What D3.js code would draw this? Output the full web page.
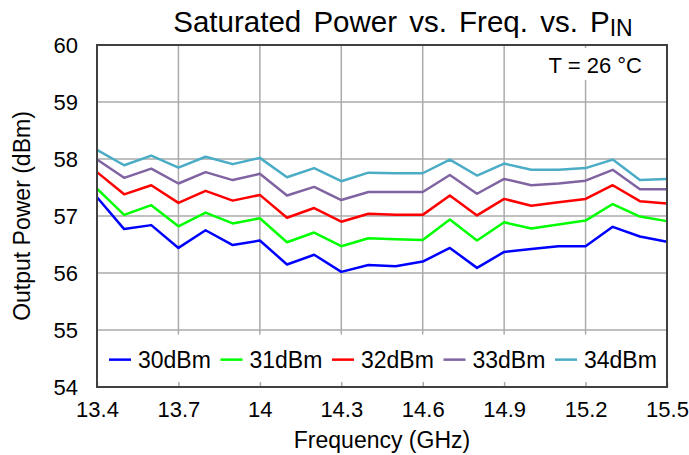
<!DOCTYPE html>
<html>
<head>
<meta charset="utf-8">
<script src="https://cdn.jsdelivr.net/npm/d3@7"></script>
<style>
  body { margin: 0; background: #fff; }
  text { font-family: "Liberation Sans", Arial, sans-serif; fill: #000; }
</style>
</head>
<body>
<div id="chart"></div>
<script>
// Data
const freqs = [13.4, 13.5, 13.6, 13.7, 13.8, 13.9, 14.0, 14.1, 14.2, 14.3, 14.4,
               14.5, 14.6, 14.7, 14.8, 14.9, 15.0, 15.1, 15.2, 15.3, 15.4, 15.5];
const pin30 = [57.33, 56.77, 56.84, 56.44, 56.75, 56.49, 56.57, 56.15, 56.32, 56.02, 56.14,
               56.12, 56.20, 56.44, 56.09, 56.37, 56.42, 56.47, 56.47, 56.81, 56.64, 56.55];
const pin31 = [57.48, 57.02, 57.19, 56.82, 57.06, 56.87, 56.96, 56.54, 56.71, 56.47, 56.61,
               56.59, 56.58, 56.94, 56.57, 56.89, 56.78, 56.85, 56.92, 57.21, 56.99, 56.91];
const pin32 = [57.77, 57.38, 57.54, 57.23, 57.44, 57.27, 57.37, 56.97, 57.14, 56.90, 57.04,
               57.02, 57.02, 57.36, 57.01, 57.30, 57.18, 57.24, 57.30, 57.54, 57.26, 57.22];
const pin33 = [57.99, 57.67, 57.83, 57.57, 57.77, 57.63, 57.74, 57.36, 57.51, 57.28, 57.42,
               57.42, 57.42, 57.72, 57.39, 57.65, 57.54, 57.57, 57.62, 57.81, 57.47, 57.47];
const pin34 = [58.16, 57.89, 58.06, 57.85, 58.04, 57.91, 58.02, 57.68, 57.84, 57.61, 57.76,
               57.75, 57.75, 57.99, 57.71, 57.92, 57.81, 57.81, 57.84, 57.99, 57.63, 57.65];
const seriesNames = ["30dBm", "31dBm", "32dBm", "33dBm", "34dBm"];
const seriesColors = ["#0000ff", "#00ff00", "#ff0000", "#8064a2", "#4bacc6"];
const xTicks = [13.4, 13.7, 14, 14.3, 14.6, 14.9, 15.2, 15.5];
const yTicks = [54, 55, 56, 57, 58, 59, 60];

const allSeries = [pin30, pin31, pin32, pin33, pin34];

const width = 689;
const height = 455;
const margin = {top: 45, right: 22, bottom: 68, left: 97};
const plotW = width - margin.left - margin.right;
const plotH = height - margin.top - margin.bottom;

const svg = d3.select("#chart")
    .append("svg")
    .attr("width", width)
    .attr("height", height);

const g = svg.append("g")
    .attr("transform", "translate(" + margin.left + "," + margin.top + ")");

// Scales
const x = d3.scaleLinear().domain([13.4, 15.5]).range([0, plotW]);
const y = d3.scaleLinear().domain([54, 60]).range([plotH, 0]);

// Horizontal grid
g.append("g")
    .selectAll("line")
    .data(yTicks.slice(1, -1))
    .join("line")
    .attr("x1", 0).attr("x2", plotW)
    .attr("y1", d => y(d)).attr("y2", d => y(d))
    .attr("stroke", "#ababab")
    .attr("stroke-width", 1.5);

// Vertical grid
g.append("g")
    .selectAll("line")
    .data(xTicks.slice(1, -1))
    .join("line")
    .attr("x1", d => x(d)).attr("x2", d => x(d))
    .attr("y1", 0).attr("y2", plotH)
    .attr("stroke", "#ababab")
    .attr("stroke-width", 1.5);

// Lines
const line = d3.line()
    .x((d, i) => x(freqs[i]))
    .y(d => y(d));

g.append("g")
    .selectAll("path")
    .data(allSeries)
    .join("path")
    .attr("fill", "none")
    .attr("stroke", (d, i) => seriesColors[i])
    .attr("stroke-width", 2.5)
    .attr("stroke-linejoin", "round")
    .attr("d", line);

// Legend box (white, covers grid)
const legY = y(54.92);
g.append("rect")
    .attr("x", 1).attr("y", legY)
    .attr("width", plotW - 2).attr("height", plotH - legY)
    .attr("fill", "#fff");

const leg = g.append("g")
    .attr("transform", "translate(12," + (y(54.48)) + ")");
const item = leg.selectAll("g")
    .data(seriesNames)
    .join("g")
    .attr("transform", (d, i) => "translate(" + (i * 111.5) + ",0)");
item.append("line")
    .attr("x1", 0).attr("x2", 22)
    .attr("stroke", (d, i) => seriesColors[i])
    .attr("stroke-width", 2.5);
item.append("text")
    .attr("x", 29)
    .attr("y", 8)
    .style("font-size", "23px")
    .text(d => d);

// Temperature label box
g.append("rect")
    .attr("x", 448).attr("y", 3)
    .attr("width", plotW - 450).attr("height", 32)
    .attr("fill", "#fff");
g.append("text")
    .attr("x", 545)
    .attr("y", 28)
    .attr("text-anchor", "end")
    .style("font-size", "22px")
    .text("T = 26 \u00b0C");

// X axis: inner ticks at the bottom
const xAxis = g.append("g")
    .attr("transform", "translate(0," + plotH + ")")
    .call(d3.axisBottom(x).tickValues(xTicks).tickSizeInner(-5).tickSizeOuter(0)
        .tickPadding(14).tickFormat(d3.format("")));
xAxis.select(".domain").remove();
xAxis.selectAll("line").attr("stroke", "#ababab").attr("stroke-width", 1.5);
xAxis.selectAll("text")
    .style("font-size", "22px")
    .attr("font-family", null);

// Y axis labels
const yAxis = g.append("g")
    .call(d3.axisLeft(y).tickValues(yTicks).tickSize(0).tickPadding(19)
        .tickFormat(d3.format("d")));
yAxis.select(".domain").remove();
yAxis.selectAll("text")
    .style("font-size", "22px")
    .attr("font-family", null);

// Plot frame
g.append("rect")
    .attr("width", plotW).attr("height", plotH)
    .attr("fill", "none")
    .attr("stroke", "#404040")
    .attr("stroke-width", 2);

// Axis titles
svg.append("text")
    .attr("x", margin.left + plotW / 2)
    .attr("y", 448)
    .attr("text-anchor", "middle")
    .style("font-size", "23px")
    .text("Frequency (GHz)");

svg.append("text")
    .attr("transform", "translate(30," + (margin.top + plotH / 2) + ")rotate(-90)")
    .attr("text-anchor", "middle")
    .style("font-size", "23px")
    .text("Output Power (dBm)");

// Title with P_IN subscript
const title = svg.append("text")
    .attr("x", 403)
    .attr("y", 32)
    .attr("text-anchor", "middle")
    .style("font-size", "29.5px")
    .style("word-spacing", "4px");
title.append("tspan").text("Saturated Power vs. Freq. vs. P");
title.append("tspan")
    .attr("dy", 4)
    .style("font-size", "23px")
    .text("IN");
</script>
</body>
</html>
